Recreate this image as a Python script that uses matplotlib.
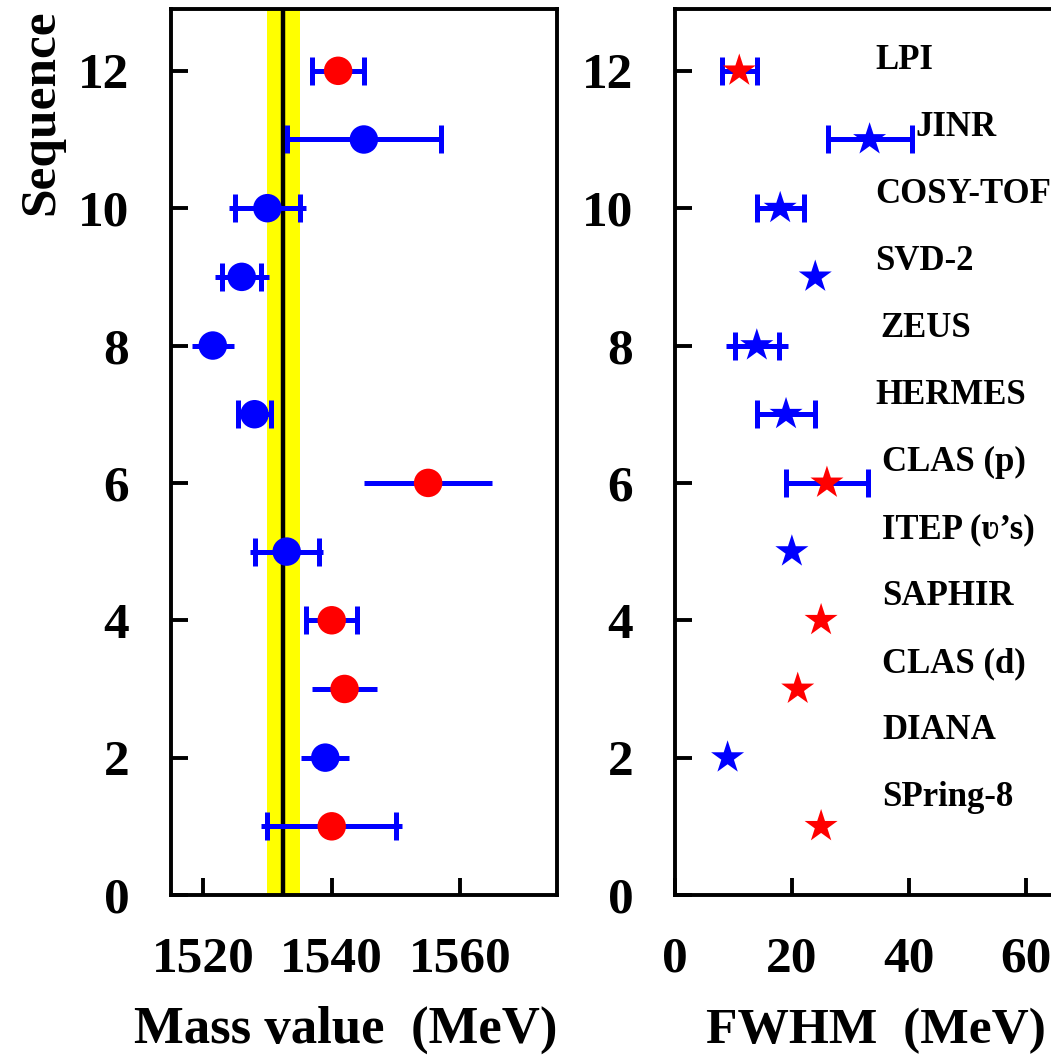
import numpy as np
import matplotlib.pyplot as plt

plt.rcParams['font.family'] = ['Liberation Serif', 'DejaVu Serif']
plt.rcParams['font.weight'] = 'bold'

# Sequence number of each experiment (top to bottom)
seq = [12, 11, 10, 9, 8, 7, 6, 5, 4, 3, 2, 1]
experiments = ["LPI", "JINR", "COSY-TOF", "SVD-2", "ZEUS", "HERMES", "CLAS (p)",
               "ITEP (\u028b\u2019s)", "SAPHIR", "CLAS (d)", "DIANA", "SPring-8"]
is_red = [True, False, False, False, False, False, True, False, True, True, False, True]

# Mass (MeV), error with caps, extra error without caps (nan = none)
mass = [1541, 1545, 1530, 1526, 1521.5, 1528, 1555, 1533, 1540, 1542, 1539, 1540]
mass_err_cap = [4, 12, 5, 3, np.nan, 2.6, np.nan, 5, 4, np.nan, np.nan, 10]
mass_err_line = [np.nan, np.nan, 6, 4.2, 3.3, np.nan, 10, 5.7, np.nan, 5, 3.7, 11]

# FWHM (MeV)
fwhm = [11, 33.3, 18, 24, 14, 19, 26, 20, 25, 21, 9, 25]
fwhm_err_cap = [3, 7.2, 4, np.nan, 3.8, 5, 7, np.nan, np.nan, np.nan, np.nan, np.nan]
fwhm_err_line = [np.nan, np.nan, np.nan, np.nan, 5.3, np.nan, np.nan, np.nan, np.nan, np.nan, np.nan, np.nan]

# average mass and its band
mass_avg = 1532.5
band = (1530, 1535)

label_x = [34.3, 41.2, 34.3, 34.3, 35.2, 34.3, 35.5, 35.5, 35.5, 35.5, 35.5, 35.5]

blue = '#0000ff'
red = '#ff0000'
cols = [red if r else blue for r in is_red]

W, H = 1051, 1056
fig = plt.figure(figsize=(W / 100, H / 100), dpi=100)
ax1 = fig.add_axes([171 / W, 1 - 895 / H, 385.7 / W, 886 / H])
ax2 = fig.add_axes([675 / W, 1 - 895 / H, 385.7 / W, 886 / H])

for ax in (ax1, ax2):
    ax.set_ylim(0, 12.9)
    ax.set_yticks([0, 2, 4, 6, 8, 10, 12])
    ax.tick_params(direction='in', length=12, width=2.8, labelsize=37, pad=30,
                   top=False, right=False)
    for s in ax.spines.values():
        s.set_linewidth(2.8)

# left panel: mass values
ax1.axvspan(band[0], band[1], color='#ffff00', lw=0, zorder=1)
ax1.axvline(mass_avg, color='black', lw=3.2, zorder=2)
ax1.errorbar(mass, seq, xerr=mass_err_line, fmt='none', ecolor=blue, elinewidth=3.6, zorder=3)
ax1.errorbar(mass, seq, xerr=mass_err_cap, fmt='none', ecolor=blue, elinewidth=3.6,
             capsize=10, capthick=3.6, zorder=3)
ax1.scatter(mass, seq, s=20.5 ** 2, c=cols, marker='o', linewidths=0, zorder=4)
ax1.set_xlim(1515, 1575)
ax1.set_xticks([1520, 1540, 1560])

# right panel: widths
ax2.errorbar(fwhm, seq, xerr=fwhm_err_line, fmt='none', ecolor=blue, elinewidth=3.6, zorder=3)
ax2.errorbar(fwhm, seq, xerr=fwhm_err_cap, fmt='none', ecolor=blue, elinewidth=3.6,
             capsize=10, capthick=3.6, zorder=3)
ax2.scatter(fwhm, seq, s=25 ** 2, c=cols, marker='*', linewidths=0, zorder=4)
ax2.set_xlim(0, 66)
ax2.set_xticks([0, 20, 40, 60])

for i, name in enumerate(experiments):
    ax2.text(label_x[i], 12.15 - 0.976 * i, name, fontsize=25, fontweight='bold',
             ha='left', va='center')

fig.text(41.5 / W, 1 - 112 / H, "Sequence", rotation=90, fontsize=37,
         fontweight='bold', ha='center', va='center')
fig.text(134 / W, 1 - 1043 / H, "Mass value  (MeV)", fontsize=38,
         fontweight='bold', ha='left', va='baseline')
fig.text(706 / W, 1 - 1043 / H, "FWHM  (MeV)", fontsize=37,
         fontweight='bold', ha='left', va='baseline')

fig.savefig('out.png', dpi=100)
